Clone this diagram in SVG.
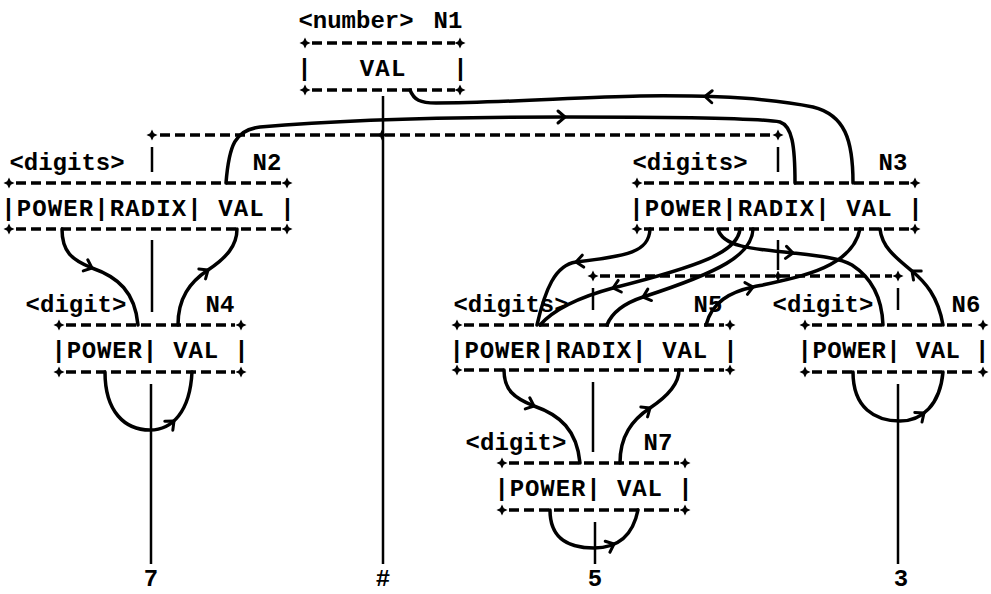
<svg xmlns="http://www.w3.org/2000/svg" width="991" height="594" viewBox="0 0 991 594">
<style>
text { font-family: "Liberation Mono", "DejaVu Sans Mono", monospace; font-weight: bold; font-size: 24px; fill: #000; }
.mid { text-anchor: middle; }
.row { white-space: pre; }
.dash { stroke: #000; stroke-width: 3.5; stroke-dasharray: 10 5; fill: none; }
.tree { stroke: #000; stroke-width: 2.5; fill: none; }
.arc { stroke: #000; stroke-width: 3.5; fill: none; stroke-linecap: round; }
.ah { stroke: #000; stroke-width: 3; fill: none; stroke-linecap: round; stroke-linejoin: round; }
</style>
<defs>
<path id="pl" d="M0,-5.5 L1.8,-1.8 L5.5,0 L1.8,1.8 L0,5.5 L-1.8,1.8 L-5.5,0 L-1.8,-1.8 Z" fill="#000"/>
<path id="ah" d="M-7,-6 L0,0 L-7,6" class="ah"/>
</defs>
<rect width="991" height="594" fill="#fff"/>

<g id="N1">
<text class="mid" x="356" y="28">&lt;number&gt;</text>
<text class="mid" x="448" y="28">N1</text>
<line class="dash" x1="312" y1="43" x2="455" y2="43"/>
<line class="dash" x1="312" y1="90" x2="455" y2="90"/>
<use href="#pl" x="305" y="43"/><use href="#pl" x="460" y="43"/>
<use href="#pl" x="305" y="90"/><use href="#pl" x="460" y="90"/>
<text class="row" xml:space="preserve" x="297.25" y="76" textLength="170.5">|   VAL   |</text>
</g>

<g id="N2">
<text class="mid" x="67" y="170">&lt;digits&gt;</text>
<text class="mid" x="267" y="170">N2</text>
<line class="dash" x1="16" y1="183" x2="281" y2="183"/>
<line class="dash" x1="16" y1="229" x2="281" y2="229"/>
<use href="#pl" x="9" y="183"/><use href="#pl" x="287" y="183"/>
<use href="#pl" x="9" y="229"/><use href="#pl" x="287" y="229"/>
<text class="row" xml:space="preserve" x="1.3" y="216" textLength="293.4">|POWER|RADIX| VAL |</text>
</g>

<g id="N3">
<text class="mid" x="690" y="170">&lt;digits&gt;</text>
<text class="mid" x="893" y="170">N3</text>
<line class="dash" x1="644" y1="183" x2="909" y2="183"/>
<line class="dash" x1="644" y1="229" x2="909" y2="229"/>
<use href="#pl" x="637" y="183"/><use href="#pl" x="915" y="183"/>
<use href="#pl" x="637" y="229"/><use href="#pl" x="915" y="229"/>
<text class="row" xml:space="preserve" x="629.3" y="216" textLength="293.4">|POWER|RADIX| VAL |</text>
</g>

<g id="N4">
<text class="mid" x="76" y="312">&lt;digit&gt;</text>
<text class="mid" x="220" y="312">N4</text>
<line class="dash" x1="66" y1="325" x2="235" y2="325"/>
<line class="dash" x1="66" y1="372" x2="235" y2="372"/>
<use href="#pl" x="59" y="325"/><use href="#pl" x="241" y="325"/>
<use href="#pl" x="59" y="372"/><use href="#pl" x="241" y="372"/>
<text class="row" xml:space="preserve" x="51.4" y="358" textLength="197.2">|POWER| VAL |</text>
</g>

<g id="N5">
<text class="mid" x="511" y="312">&lt;digits&gt;</text>
<text class="mid" x="708" y="312">N5</text>
<line class="dash" x1="464" y1="325" x2="724" y2="325"/>
<line class="dash" x1="464" y1="370" x2="724" y2="370"/>
<use href="#pl" x="457" y="325"/><use href="#pl" x="730" y="325"/>
<use href="#pl" x="457" y="370"/><use href="#pl" x="730" y="370"/>
<text class="row" xml:space="preserve" x="449.4" y="358" textLength="288.2">|POWER|RADIX| VAL |</text>
</g>

<g id="N6">
<text class="mid" x="823" y="312">&lt;digit&gt;</text>
<text class="mid" x="966" y="312">N6</text>
<line class="dash" x1="812" y1="325" x2="977" y2="325"/>
<line class="dash" x1="812" y1="372" x2="977" y2="372"/>
<use href="#pl" x="805" y="325"/><use href="#pl" x="983" y="325"/>
<use href="#pl" x="805" y="372"/><use href="#pl" x="983" y="372"/>
<text class="row" xml:space="preserve" x="797.6" y="358" textLength="191.8">|POWER| VAL |</text>
</g>

<g id="N7">
<text class="mid" x="516" y="450">&lt;digit&gt;</text>
<text class="mid" x="658" y="450">N7</text>
<line class="dash" x1="509" y1="463" x2="679" y2="463"/>
<line class="dash" x1="509" y1="510" x2="679" y2="510"/>
<use href="#pl" x="502" y="463"/><use href="#pl" x="685" y="463"/>
<use href="#pl" x="502" y="510"/><use href="#pl" x="685" y="510"/>
<text class="row" xml:space="preserve" x="494.4" y="496" textLength="198.2">|POWER| VAL |</text>
</g>

<g id="leaves">
<text class="mid" x="151" y="586">7</text>
<text class="mid" x="383" y="586">#</text>
<text class="mid" x="595" y="586">5</text>
<text class="mid" x="901" y="586">3</text>
</g>

<g id="connectors">
<line class="dash" x1="160" y1="135" x2="772" y2="135"/>
<use href="#pl" x="152" y="135"/><use href="#pl" x="382" y="135"/><use href="#pl" x="778" y="135"/>
<line class="dash" x1="600" y1="276" x2="892" y2="276"/>
<use href="#pl" x="593" y="276"/><use href="#pl" x="778" y="276"/><use href="#pl" x="898" y="276"/>

<line class="tree" x1="383" y1="96" x2="383" y2="564"/>
<line class="tree" x1="152" y1="147" x2="152" y2="172"/>
<line class="tree" x1="152" y1="240" x2="152" y2="312"/>
<line class="tree" x1="151" y1="384" x2="151" y2="564"/>
<line class="tree" x1="778" y1="147" x2="778" y2="172"/>
<line class="tree" x1="778" y1="240" x2="778" y2="270"/>
<line class="tree" x1="593" y1="288" x2="593" y2="310"/>
<line class="tree" x1="593" y1="382" x2="593" y2="452"/>
<line class="tree" x1="595" y1="522" x2="595" y2="564"/>
<line class="tree" x1="898" y1="288" x2="898" y2="310"/>
<line class="tree" x1="898" y1="384" x2="898" y2="564"/>

<path class="arc" d="M410,90 C414,100 420,103 436,103 C500,103 580,97 640,96 C720,95 780,100 813,107 C845,115 853,140 853,183"/>
<path class="arc" d="M226,183 C229,145 235,130 260,127 C350,119 450,117 565,117 C680,117 760,118 780,122 C792,126 795,145 795,183"/>
<path class="arc" d="M62,229 C62,252 72,260 92,268 C118,277 135,292 138,325"/>
<path class="arc" d="M178,325 C178,298 190,282 208,270 C226,258 237,246 237,229"/>
<path class="arc" d="M105,372 C105,412 125,430 150,430 C172,430 190,412 192,372"/>
<path class="arc" d="M504,370 C504,390 514,398 534,406 C560,415 577,430 580,463"/>
<path class="arc" d="M620,463 C620,436 632,420 650,408 C668,396 679,384 679,370"/>
<path class="arc" d="M550,510 C550,540 570,548 594,548 C614,548 632,540 638,510"/>
<path class="arc" d="M853,372 C853,408 875,421 900,421 C922,421 940,405 943,372"/>
<path class="arc" d="M650,229 C649,252 628,256 576,262 C555,265 545,290 537,325"/>
<path class="arc" d="M740,229 C738,252 700,266 613,288 C580,297 555,308 540,325"/>
<path class="arc" d="M753,229 C752,255 720,272 643,297 C625,303 612,312 607,325"/>
<path class="arc" d="M718,229 C722,246 750,249 793,253 C820,256 840,258 852,265 C872,278 882,298 883,325"/>
<path class="arc" d="M706,325 C712,302 730,292 753,287 C800,277 852,268 860,229"/>
<path class="arc" d="M943,325 C938,296 925,282 912,271 C895,257 882,247 880,229"/>

<use href="#ah" transform="translate(705,96.5) rotate(182)"/>
<use href="#ah" transform="translate(565,117) rotate(0)"/>
<use href="#ah" transform="translate(92,268) rotate(22)"/>
<use href="#ah" transform="translate(208,270) rotate(-34)"/>
<use href="#ah" transform="translate(174,421) rotate(-42)"/>
<use href="#ah" transform="translate(534,406) rotate(22)"/>
<use href="#ah" transform="translate(650,408) rotate(-34)"/>
<use href="#ah" transform="translate(614,544) rotate(-23)"/>
<use href="#ah" transform="translate(924,413) rotate(-37)"/>
<use href="#ah" transform="translate(576,262) rotate(173)"/>
<use href="#ah" transform="translate(613,288) rotate(165)"/>
<use href="#ah" transform="translate(643,297) rotate(162)"/>
<use href="#ah" transform="translate(793,253) rotate(5)"/>
<use href="#ah" transform="translate(753,287) rotate(-12)"/>
<use href="#ah" transform="translate(912,271) rotate(-140)"/>
</g>
</svg>
